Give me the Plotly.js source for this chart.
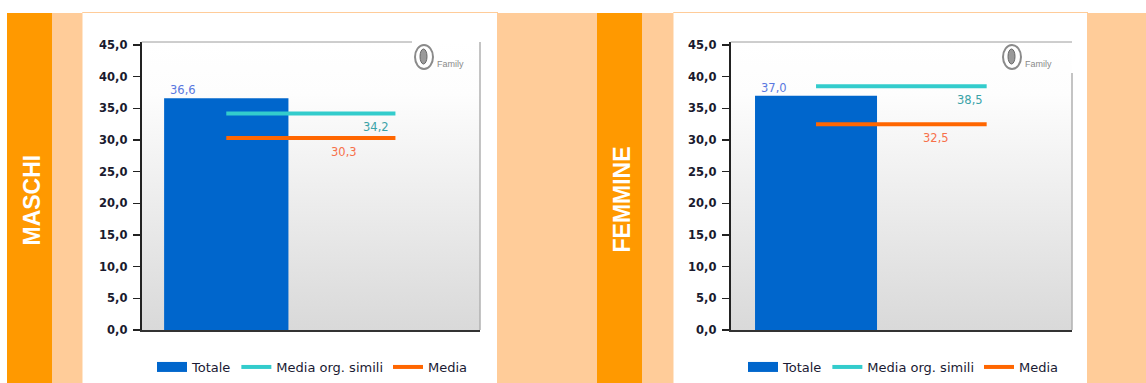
<!DOCTYPE html>
<html>
<head>
<meta charset="utf-8">
<script src="https://cdn.plot.ly/plotly-3.0.1.min.js"></script>
<style>
  html, body { margin: 0; padding: 0; background: #ffffff; }
  #wrap { position: relative; width: 1146px; height: 383px; overflow: hidden; }
  .blk { position: absolute; }
  #chart { position: absolute; left: 0; top: 0; width: 1146px; height: 383px; }
</style>
</head>
<body>
<div id="wrap"><div id="chart"></div></div>
<script>
// ---- data ----
const panels = ['MASCHI', 'FEMMINE'];
const seriesNames = ['Totale', 'Media org. simili', 'Media'];
const slots = ['c1', 'c2'];
const totale = [36.6, 37.0];
const mediaSimili = [34.2, 38.5];
const media = [30.3, 32.5];
const yTicks = [0, 5, 10, 15, 20, 25, 30, 35, 40, 45];

// ---- styling ----
const W = 1146, H = 383;
const BLUE = '#0066CC', CYAN = '#33CCCC', ORANGE = '#FF6600';
const STRIP = '#FF9900', PEACH = '#FFCC99';
const plotPx = [
  { x0: 141.7, x1: 480, y0: 42, y1: 330, barW: 0.735 },
  { x0: 730.7, x1: 1072, y0: 42, y1: 330, barW: 0.715 }
];
const px = v => v / W;
const py = v => 1 - v / H;

// background blocks (HTML)
const wrap = document.getElementById('wrap');
function blk(l, t, w, h, css) {
  const d = document.createElement('div');
  d.className = 'blk';
  d.style.left = l + 'px'; d.style.top = t + 'px';
  d.style.width = w + 'px'; d.style.height = h + 'px';
  Object.assign(d.style, css);
  wrap.insertBefore(d, document.getElementById('chart'));
}
blk(6.7, 13, 45, 370, { background: STRIP });
blk(51.7, 13, 30, 370, { background: PEACH });
blk(81.7, 12, 415, 371, { background: '#fff', borderTop: '1px solid ' + PEACH, borderLeft: '1px solid #ffe6cc' });
blk(496.7, 13, 100, 370, { background: PEACH });
blk(596.7, 13, 45, 370, { background: STRIP });
blk(641.7, 13, 31, 370, { background: PEACH });
blk(672.7, 12, 414, 371, { background: '#fff', borderTop: '1px solid ' + PEACH, borderLeft: '1px solid #ffe6cc' });
blk(1086.7, 13, 60, 370, { background: PEACH });
plotPx.forEach(p => {
  blk(p.x0, p.y0, p.x1 - p.x0, p.y1 - p.y0,
      { background: 'linear-gradient(to bottom, #ffffff 0%, #fdfdfd 18%, #d9d9d9 100%)' });
});

const fmt = v => v.toFixed(1).replace('.', ',');

const data = [];
const annotations = [];
const shapes = [];
const layout = {
  width: W, height: H,
  margin: { l: 0, r: 0, t: 0, b: 0 },
  paper_bgcolor: 'rgba(0,0,0,0)',
  plot_bgcolor: 'rgba(0,0,0,0)',
  separators: ',.',
  showlegend: true,
  annotations, shapes
};

panels.forEach((name, i) => {
  const p = plotPx[i];
  const xa = i === 0 ? 'x' : 'x2';
  const ya = i === 0 ? 'y' : 'y2';
  const lg = i === 0 ? 'legend' : 'legend2';
  const xKey = i === 0 ? 'xaxis' : 'xaxis2';
  const yKey = i === 0 ? 'yaxis' : 'yaxis2';

  layout[xKey] = {
    domain: [px(p.x0), px(p.x1)], anchor: ya, type: 'category',
    categoryarray: slots, range: [-0.5, 1.5], fixedrange: true,
    showticklabels: false, ticks: '', showgrid: false, zeroline: false,
    showline: true, linecolor: '#333333', linewidth: 2
  };
  layout[yKey] = {
    domain: [py(p.y1), py(p.y0)], anchor: xa,
    range: [0, 45.47], tickvals: yTicks, tickformat: '.1f',
    ticks: 'outside', ticklen: 7, tickwidth: 1.5, tickcolor: '#222',
    ticklabelstandoff: 3,
    showgrid: false, zeroline: false, showline: true,
    linecolor: '#222', linewidth: 2,
    tickfont: { family: 'DejaVu Sans', size: 11.5, color: '#1a1a2e', weight: 'bold' }
  };
  layout[lg] = {
    orientation: 'h', x: px(i === 0 ? 152 : 743), xanchor: 'left',
    y: py(367), yanchor: 'middle', bgcolor: 'rgba(0,0,0,0)',
    font: { family: 'DejaVu Sans', size: 13, color: '#1a1a33' },
    itemclick: false, itemdoubleclick: false, tracegroupgap: 0
  };

  // legend swatch for Totale
  data.push({
    type: 'scatter', mode: 'lines', x: [null], y: [null], xaxis: xa, yaxis: ya,
    name: seriesNames[0], legend: lg, legendgroup: 'tot' + i,
    line: { color: BLUE, width: 12 }, hoverinfo: 'skip'
  });
  data.push({
    type: 'bar', x: [slots[0]], y: [totale[i]], xaxis: xa, yaxis: ya,
    name: seriesNames[0], legend: lg, legendgroup: 'tot' + i, showlegend: false,
    width: p.barW, marker: { color: BLUE, line: { width: 0 } }
  });
  data.push({
    type: 'scatter', mode: 'lines', x: slots, y: [mediaSimili[i], mediaSimili[i]],
    xaxis: xa, yaxis: ya, name: seriesNames[1], legend: lg,
    line: { color: CYAN, width: 4 }
  });
  data.push({
    type: 'scatter', mode: 'lines', x: slots, y: [media[i], media[i]],
    xaxis: xa, yaxis: ya, name: seriesNames[2], legend: lg,
    line: { color: ORANGE, width: 4 }
  });

  // value labels
  const lf = (c) => ({ family: 'DejaVu Sans', size: 11.5, color: c });
  annotations.push({ xref: xa, yref: ya, x: i === 0 ? -0.253 : -0.246, y: totale[i],
    text: fmt(totale[i]), showarrow: false, yanchor: 'middle', yshift: 8, font: lf('#5a78e0') });
  annotations.push({ xref: xa, yref: ya, x: i === 0 ? 0.888 : 0.903, y: mediaSimili[i],
    text: fmt(mediaSimili[i]), showarrow: false, yanchor: 'middle', yshift: -14, font: lf('#3aa3a8') });
  annotations.push({ xref: xa, yref: ya, x: i === 0 ? 0.693 : 0.703, y: media[i],
    text: fmt(media[i]), showarrow: false, yanchor: 'middle', yshift: -14, font: lf('#f7704a') });

  // panel title
  annotations.push({ xref: 'paper', yref: 'paper', x: px(i === 0 ? 31.5 : 621.5), y: py(200),
    xanchor: 'center', yanchor: 'middle',
    text: '<b>' + name + '</b>', textangle: -90, showarrow: false,
    font: { family: 'Liberation Sans', size: 23, color: '#ffffff' } });

  // frame: top and right (grey)
  const topEnd = i === 0 ? 412 : p.x1;
  const rightStart = i === 0 ? p.y0 : 73;
  shapes.push({ type: 'line', xref: 'paper', yref: 'paper', x0: px(p.x0), x1: px(topEnd),
    y0: py(p.y0), y1: py(p.y0), line: { color: '#9c9c9c', width: 1 } });
  shapes.push({ type: 'line', xref: 'paper', yref: 'paper', x0: px(p.x1), x1: px(p.x1),
    y0: py(rightStart), y1: py(p.y1), line: { color: '#b0b0b0', width: 1.5 } });

  // logo
  const lx = i === 0 ? 415 : 1003;
  shapes.push({ type: 'circle', xref: 'paper', yref: 'paper',
    x0: px(lx), x1: px(lx + 18), y0: py(69), y1: py(45),
    line: { color: '#8a8a8a', width: 2 }, fillcolor: 'rgba(255,255,255,0.6)' });
  shapes.push({ type: 'circle', xref: 'paper', yref: 'paper',
    x0: px(lx + 5), x1: px(lx + 12), y0: py(64), y1: py(49),
    line: { color: '#666', width: 1 }, fillcolor: '#9a9a9a' });
  annotations.push({ xref: 'paper', yref: 'paper', x: px(lx + 20), y: py(57), xanchor: 'left',
    text: 'Family', showarrow: false,
    font: { family: 'Liberation Sans', size: 9, color: '#8a8a8a' } });
});

Plotly.newPlot('chart', data, layout, { displayModeBar: false, staticPlot: true });
</script>
</body>
</html>
